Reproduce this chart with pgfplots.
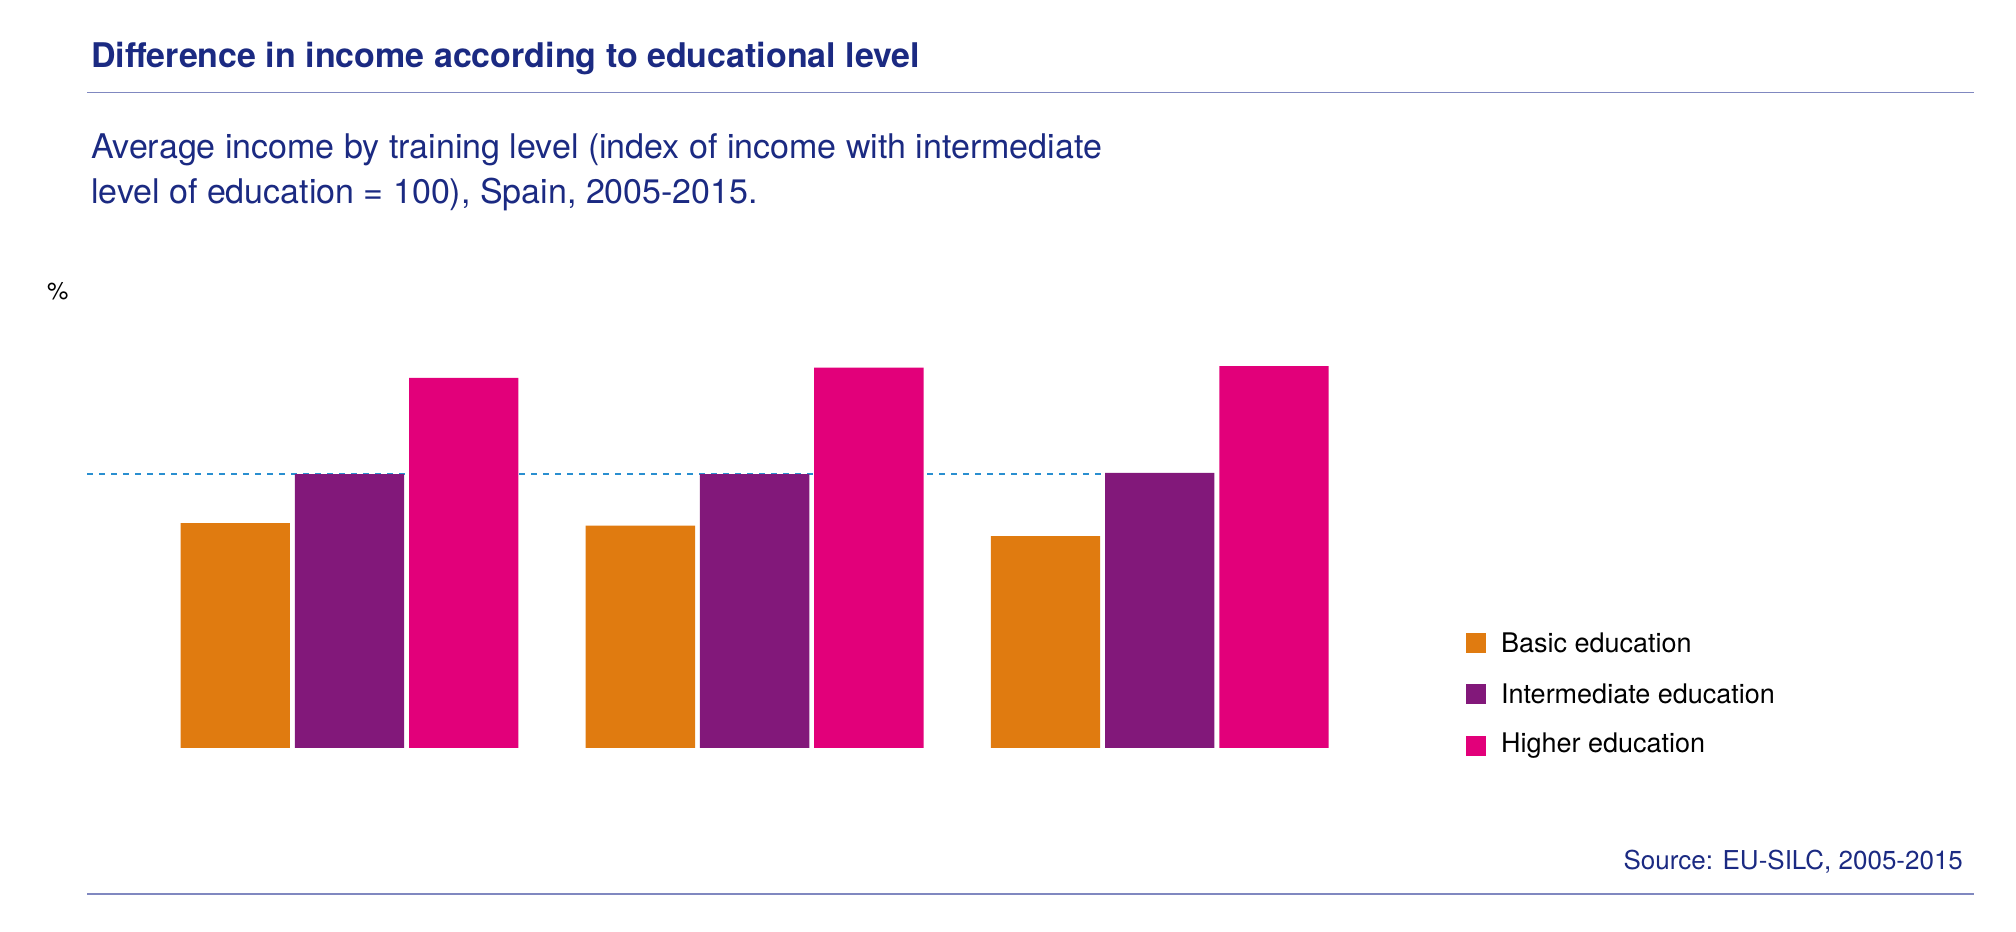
\documentclass[border=0pt]{standalone}
\usepackage{pgfplots}
\pgfplotsset{compat=1.18}
\usepackage{fontspec}
\setmainfont{TeX Gyre Heros}
\definecolor{navy}{HTML}{1B2A82}
\definecolor{cbasic}{HTML}{E07B10}
\definecolor{cinter}{HTML}{82187A}
\definecolor{chigh}{HTML}{E2007A}
\definecolor{cdash}{HTML}{2A8FD0}
\definecolor{rule}{HTML}{8088C0}
\begin{document}
\begin{tikzpicture}
\path[use as bounding box] (0,0) rectangle (1008pt,465.5pt);
\begin{axis}[at={(43.5pt,91.5pt)},anchor=south west,scale only axis,
 width=620pt,height=207.5pt,
 xmin=-0.648,xmax=2.413,ymin=0,ymax=150,
 axis lines=none,
 ytick={0,30,...,150},ymajorgrids,grid style={navy,line width=0.6pt},
 xtick={0,1,2},xticklabels={2005,2010,2015},
 tick style={draw=none},
 ticklabel style={font=\fontsize{12}{14}\selectfont,text=black},
 /pgf/number format/assume math mode=true,
 xticklabel style={yshift=-6pt},
 yticklabel style={xshift=-2pt},
 ybar,bar width=0.27,bar shift=0pt,clip=false]
\addplot[ybar=0pt,sharp plot,cdash,dashed,line width=1.2pt,forget plot] coordinates {(-0.648,99) (2.136,99)};
\addplot[fill=cbasic,draw=none] coordinates {(-0.282,81.3) (0.718,80.4) (1.718,76.6)};
\addplot[fill=cinter,draw=none] coordinates {(0,99) (1,99) (2,99.4)};
\addplot[fill=chigh,draw=none] coordinates {(0.282,133.8) (1.282,137.5) (2.282,138)};
\end{axis}
\node[anchor=south west,font=\fontsize{12}{14}\selectfont] at (20pt,312pt) {\%};
\node[anchor=west,text=navy,font=\fontsize{17}{20}\bfseries\selectfont] at (42pt,436pt) {Difference in income according to educational level};
\draw[rule,line width=0.6pt] (43.7pt,419.2pt) -- (987pt,419.2pt);
\node[anchor=west,text=navy,font=\fontsize{17}{20}\selectfont] at (42pt,390.5pt) {Average income by training level (index of income with intermediate};
\node[anchor=west,text=navy,font=\fontsize{17}{20}\selectfont] at (42pt,368pt) {level of education = 100), Spain, 2005-2015.};
\node[anchor=east,text=navy,font=\fontsize{13}{15}\selectfont] at (985pt,34.5pt) {Source: EU-SILC, 2005-2015};
\draw[rule,line width=0.6pt] (43.7pt,18.5pt) -- (987pt,18.5pt);
\foreach \c/\t/\y in {cbasic/Basic education/144,cinter/Intermediate education/118.5,chigh/Higher education/92.5}{
 \fill[\c] (733pt,\y pt-5pt) rectangle (743pt,\y pt+5pt);
 \node[anchor=west,font=\fontsize{13.5}{15}\selectfont] at (747pt,\y pt) {\t};
}
\end{tikzpicture}
\end{document}
